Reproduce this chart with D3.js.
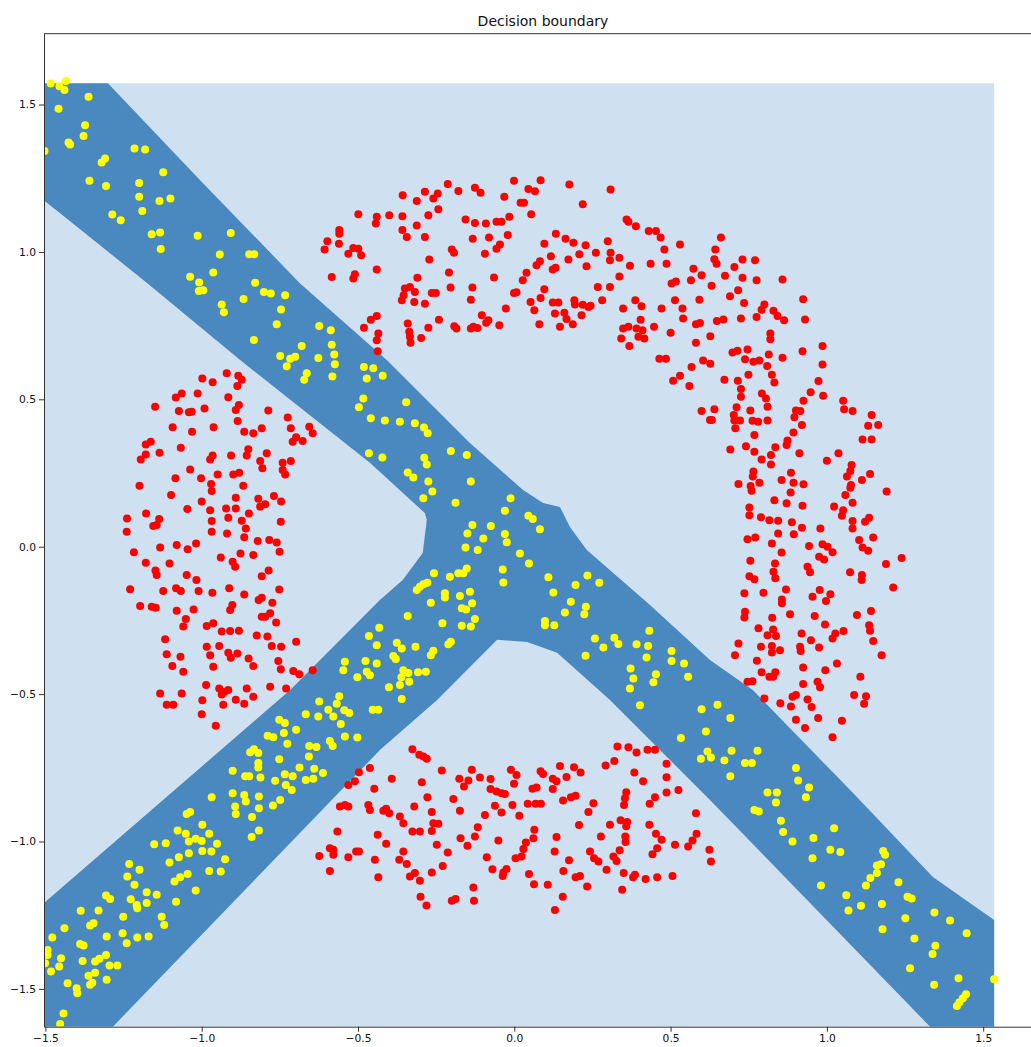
<!DOCTYPE html>
<html>
<head>
<meta charset="utf-8">
<script src="https://cdn.jsdelivr.net/npm/d3@7"></script>
<style>
  body { margin: 0; background: #fff; }
  svg { display: block; font-family: "DejaVu Sans", sans-serif; }
</style>
</head>
<body>
<div id="chart"></div>
<script>
// ticks
const xTicks = [-1.5, -1.0, -0.5, 0.0, 0.5, 1.0, 1.5];
const yTicks = [-1.5, -1.0, -0.5, 0.0, 0.5, 1.0, 1.5];

// extent of the prediction mesh (light region)
const meshX = [-1.5045, 1.535];
const meshY = [-1.628, 1.572];

// outline of the dark decision region (data units)
const bandOutline = [
  [-1.505, 1.572], [-1.300, 1.572], [-1.005, 1.243], [-0.686, 0.894], [-0.408, 0.633],
  [-0.142, 0.352], [0.028, 0.192], [0.092, 0.148], [0.146, 0.135], [0.178, 0.067],
  [0.232, -0.011], [0.434, -0.198], [0.626, -0.384], [0.763, -0.486], [1.096, -0.849],
  [1.339, -1.120], [1.535, -1.266], [1.535, -1.628], [1.330, -1.628], [0.626, -0.859],
  [0.306, -0.520], [0.137, -0.360], [0.041, -0.323], [-0.055, -0.316], [-0.247, -0.520],
  [-0.430, -0.690], [-1.284, -1.628], [-1.505, -1.628], [-1.505, -1.209], [-0.717, -0.486],
  [-0.430, -0.181], [-0.357, -0.113], [-0.293, -0.021], [-0.280, 0.091], [-0.286, 0.114],
  [-0.461, 0.284], [-0.877, 0.633], [-1.174, 0.894], [-1.453, 1.131], [-1.505, 1.175]
];

// class 0 points (red)
const redPts = [
  [-0.499,1.128],[-0.440,1.119],[-0.443,1.096],[-0.560,1.074],[-0.560,1.062],[-0.598,1.036],[-0.607,1.008],[-0.561,1.028],
  [-0.531,0.994],[-0.515,1.013],[-0.499,1.011],[-0.490,0.989],[-0.584,0.915],[-0.515,0.910],[-0.510,0.924],[-0.440,0.940],
  [-0.459,0.770],[-0.440,0.783],[-0.481,0.743],[-0.435,0.723],[-0.440,0.700],[-0.437,0.663],
  [-0.213,1.230],[-0.357,1.192],[-0.286,1.204],[-0.312,1.173],[-0.259,1.181],[-0.245,1.198],[-0.179,1.207],[-0.126,1.218],
  [-0.108,1.201],[-0.032,1.187],[-0.001,1.241],[0.020,1.167],[0.031,1.167],[0.045,1.213],[0.066,1.206],[0.084,1.243],
  [0.176,1.229],[0.219,1.162],[0.308,1.212],[-0.243,1.145],[-0.275,1.124],[-0.400,1.124],[-0.358,1.121],[-0.312,1.090],
  [-0.358,1.074],[-0.344,1.051],[-0.286,1.051],[-0.156,1.110],[-0.126,1.098],[-0.091,1.096],[-0.057,1.102],[-0.041,1.102],
  [-0.016,1.119],[0.054,1.128],[-0.133,1.045],[-0.081,1.049],[-0.021,1.057],[-0.200,1.008],[-0.193,0.997],[-0.094,0.994],
  [-0.057,1.011],[-0.046,1.025],[-0.272,0.974],[-0.209,0.930],[-0.310,0.912],[-0.065,0.913],[-0.350,0.876],[-0.334,0.881],
  [-0.318,0.864],[-0.360,0.836],[-0.354,0.853],[-0.264,0.861],[-0.251,0.861],[-0.320,0.830],[-0.286,0.824],[-0.204,0.879],
  [-0.134,0.879],[-0.139,0.838],[-0.001,0.861],[0.007,0.863],[-0.027,0.808],[0.027,0.904],[0.039,0.929],[0.071,0.955],
  [0.082,0.968],[0.096,1.028],[0.117,0.985],[0.123,0.940],[0.132,0.946],[0.133,1.062],[0.164,1.045],[0.189,1.031],
  [0.228,1.023],[0.208,0.992],[0.173,0.974],[0.231,0.951],[0.261,0.997],[0.299,1.036],[0.308,0.997],[0.306,0.972],
  [0.336,0.980],[0.370,0.953],[0.359,1.110],[0.365,1.102],[0.389,1.087],[0.430,1.071],[0.453,1.071],[0.468,1.049],
  [0.480,1.008],[0.530,1.025],[0.436,0.960],[0.487,0.960],[0.336,0.917],[0.267,0.881],[0.306,0.881],[0.096,0.873],
  [0.052,0.830],[0.064,0.802],[0.084,0.844],[0.123,0.828],[0.141,0.828],[0.130,0.791],[0.160,0.794],[0.167,0.772],
  [0.192,0.836],[0.194,0.822],[0.219,0.821],[0.237,0.813],[0.244,0.817],[0.215,0.785],[0.281,0.836],[0.187,0.755],
  [0.146,0.746],[0.080,0.755],[-0.048,0.751],[-0.104,0.785],[-0.090,0.760],[-0.083,0.768],[-0.139,0.740],[-0.131,0.746],
  [-0.118,0.742],[-0.192,0.748],[-0.185,0.740],[-0.241,0.770],[-0.275,0.743],[-0.341,0.757],[-0.336,0.729],[-0.334,0.712],
  [-0.332,0.692],[-0.298,0.708],[0.348,0.808],[0.387,0.836],[0.407,0.816],[0.404,0.770],[0.348,0.740],[0.365,0.746],
  [0.391,0.740],[0.410,0.734],[0.342,0.706],[0.368,0.681],[0.397,0.712],[0.416,0.706],[0.447,0.746],[0.471,0.808],
  [0.514,0.836],[0.500,0.726],[0.538,0.808],[0.540,0.774],[0.503,0.893],[0.517,0.900],[0.565,0.904],[0.573,0.943],
  [0.599,0.921],[0.592,0.838],[0.581,0.755],[0.594,0.759],[0.581,0.692],[0.464,0.638],[0.485,0.638],[0.567,0.610],
  [0.604,0.632],
  [0.661,1.049],[0.643,1.008],[0.640,0.975],[0.647,0.960],[0.704,0.949],[0.730,0.974],[0.770,0.972],[0.674,0.919],
  [0.730,0.912],[0.775,0.904],[0.858,0.906],[0.631,0.885],[0.716,0.870],[0.690,0.850],[0.735,0.827],[0.800,0.822],
  [0.791,0.804],[0.829,0.800],[0.842,0.783],[0.863,0.768],[0.924,0.839],[0.930,0.771],[0.648,0.766],[0.669,0.771],
  [0.725,0.774],[0.775,0.779],[0.627,0.714],[0.819,0.723],[0.819,0.704],[0.698,0.659],[0.714,0.665],[0.746,0.669],
  [0.738,0.636],[0.765,0.627],[0.784,0.632],[0.814,0.652],[0.809,0.613],[0.858,0.641],[0.922,0.663],[0.986,0.681],
  [0.986,0.618],[0.627,0.621],
  [0.530,0.580],[0.508,0.563],[0.560,0.545],[0.599,0.460],[0.626,0.430],
  [-0.920,0.588],[-0.998,0.571],[-0.965,0.558],[-0.883,0.580],[-0.872,0.566],[-0.886,0.545],[-1.083,0.506],[-1.064,0.520],
  [-1.013,0.520],[-1.149,0.475],[-0.915,0.507],[-1.073,0.460],[-1.041,0.456],[-1.032,0.458],[-0.991,0.469],[-0.881,0.481],
  [-0.891,0.464],[-0.787,0.462],[-0.885,0.426],[-1.093,0.405],[-1.031,0.390],[-0.962,0.405],[-0.864,0.390],[-0.835,0.385],
  [-0.808,0.402],[-0.725,0.438],[-0.715,0.402],[-0.656,0.407],[-0.645,0.385],[-0.698,0.371],[-0.709,0.356],[-0.677,0.359],
  [-1.179,0.347],[-1.163,0.356],[-1.135,0.319],[-1.067,0.336],[-1.195,0.296],[-1.179,0.313],[-0.973,0.296],[-0.965,0.309],
  [-0.906,0.309],[-0.851,0.331],[-0.856,0.309],[-0.792,0.317],[-0.813,0.291],[-0.806,0.266],[-0.741,0.285],[-0.741,0.260],
  [-0.733,0.245],[-0.715,0.291],[-1.037,0.262],[-0.949,0.245],[-0.899,0.245],[-0.880,0.251],[-1.084,0.232],[-1.002,0.232],
  [-1.199,0.207],[-0.970,0.213],[-0.968,0.189],[-0.867,0.207],[-1.098,0.175],[-1.000,0.153],[-0.891,0.166],[-0.819,0.163],
  [-0.813,0.136],[-0.797,0.144],[-0.769,0.172],[-0.746,0.153],[-1.046,0.128],[-0.973,0.124],[-0.922,0.130],[-0.891,0.130],
  [-0.849,0.113],[-1.178,0.113],[-1.239,0.096],[-1.136,0.094],[-1.155,0.070],[-1.144,0.074],[-0.968,0.087],[-0.915,0.098],
  [-0.872,0.088],[-0.747,0.085],[-0.859,0.062],[-1.240,0.051],[-0.968,0.051],[-0.919,0.045],[-0.864,0.032],[-0.821,0.019],
  [-0.784,0.023],[-0.760,0.014],[-0.751,-0.017],[-1.080,0.006],[-1.133,-0.003],[-1.045,-0.009],[-1.018,0.011],[-1.217,-0.019],
  [-0.876,-0.023],[-0.835,-0.028],[-1.179,-0.054],[-1.103,-0.057],[-0.939,-0.037],[-0.901,-0.051],[-0.893,-0.068],[-1.148,-0.081],
  [-1.144,-0.096],[-1.048,-0.096],[-1.017,-0.113],[-0.808,-0.100],[-0.786,-0.081],[-1.229,-0.144],[-1.123,-0.150],[-1.082,-0.141],
  [-1.067,-0.150],[-1.010,-0.150],[-0.966,-0.156],[-0.912,-0.141],[-0.864,-0.162],[-0.752,-0.145],[-0.818,-0.181],[-0.808,-0.173],
  [-0.774,-0.190],[-1.197,-0.201],[-1.160,-0.204],[-1.147,-0.207],[-1.080,-0.217],[-1.026,-0.213],[-0.909,-0.215],[-0.902,-0.198],
  [-0.808,-0.238],[-0.797,-0.238],[-0.781,-0.226],[-0.762,-0.257],[-1.051,-0.245],[-1.059,-0.271],[-0.984,-0.269],[-0.963,-0.260],
  [-0.936,-0.288],[-0.909,-0.286],[-0.881,-0.285],[-0.824,-0.301],[-0.790,-0.305],[-1.117,-0.314],[-0.698,-0.322],[-0.984,-0.339],
  [-0.944,-0.337],[-0.915,-0.360],[-0.907,-0.377],[-0.886,-0.362],[-0.776,-0.337],[-0.746,-0.339],[-1.112,-0.365],[-1.068,-0.373],
  [-0.973,-0.368],[-0.850,-0.379],[-0.835,-0.405],[-0.755,-0.388],[-0.747,-0.416],[-1.094,-0.405],[-1.059,-0.424],[-0.963,-0.407],
  [-0.707,-0.422],[-0.688,-0.433],[-0.645,-0.419],[-0.986,-0.469],[-0.944,-0.481],[-0.927,-0.492],[-0.915,-0.486],[-0.936,-0.501],
  [-0.856,-0.481],[-0.781,-0.475],[-0.730,-0.481],[-1.133,-0.498],[-1.064,-0.498],[-0.835,-0.509],
  [0.749,0.583],[0.824,0.583],[0.672,0.566],[0.715,0.563],[0.832,0.557],[0.973,0.562],[0.725,0.535],[0.725,0.509],
  [0.792,0.520],[0.805,0.503],[0.810,0.475],[0.948,0.524],[0.988,0.512],[0.925,0.495],[1.052,0.495],[1.055,0.466],
  [1.082,0.460],[1.143,0.447],[1.132,0.410],[1.164,0.413],[1.114,0.364],[1.143,0.364],[0.640,0.466],[0.632,0.430],
  [0.711,0.473],[0.702,0.447],[0.704,0.428],[0.707,0.402],[0.722,0.428],[0.755,0.462],[0.762,0.427],[0.780,0.424],
  [0.810,0.428],[0.768,0.379],[0.691,0.330],[0.741,0.341],[0.768,0.322],[0.791,0.296],[0.821,0.311],[0.835,0.337],
  [0.821,0.279],[0.874,0.360],[0.871,0.345],[0.893,0.387],[0.901,0.462],[0.915,0.460],[0.896,0.439],[0.920,0.413],
  [0.912,0.317],[1.000,0.292],[1.037,0.317],[1.079,0.277],[1.064,0.238],[1.075,0.257],[1.077,0.209],[1.075,0.200],
  [1.059,0.175],[1.138,0.247],[1.112,0.226],[1.191,0.187],[0.765,0.255],[0.763,0.238],[0.717,0.213],[0.756,0.206],
  [0.759,0.190],[0.784,0.217],[0.855,0.226],[0.885,0.251],[0.893,0.217],[0.925,0.212],[0.884,0.184],[0.832,0.158],
  [0.871,0.147],[0.922,0.139],[0.752,0.133],[0.752,0.107],[0.789,0.100],[0.816,0.090],[0.844,0.088],[0.888,0.083],
  [0.920,0.064],[0.894,0.042],[0.844,0.045],[0.979,0.062],[1.023,0.136],[1.052,0.124],[1.048,0.105],[1.082,0.149],
  [1.082,0.087],[1.082,0.062],[1.122,0.085],[1.135,0.098],[1.148,0.031],[1.103,0.023],[1.114,-0.003],[1.132,-0.014],
  [0.746,0.025],[0.771,0.031],[0.824,0.011],[0.855,-0.020],[0.943,0.002],[0.986,0.008],[1.002,0.000],[1.018,-0.019],
  [0.975,-0.034],[0.991,-0.043],[0.755,-0.048],[0.834,-0.057],[0.938,-0.068],[0.946,-0.087],[0.829,-0.085],[0.835,-0.107],
  [0.752,-0.100],[0.768,-0.110],[1.074,-0.087],[1.112,-0.096],[1.111,-0.113],[1.189,-0.059],[1.239,-0.038],[1.212,-0.138],
  [0.736,-0.158],[0.797,-0.156],[0.869,-0.145],[0.856,-0.179],[0.856,-0.192],[0.977,-0.147],[0.954,-0.170],[0.997,-0.184],
  [1.011,-0.161],[0.738,-0.221],[0.736,-0.240],[0.825,-0.241],[0.882,-0.229],[0.961,-0.235],[1.096,-0.232],[1.141,-0.218],
  [0.994,-0.264],[0.781,-0.277],[0.828,-0.281],[0.810,-0.300],[0.837,-0.303],[0.919,-0.294],[0.949,-0.317],[1.018,-0.311],
  [1.027,-0.294],[1.053,-0.286],[1.135,-0.266],[1.138,-0.285],[1.148,-0.320],[1.175,-0.368],[0.717,-0.328],[0.706,-0.368],
  [0.789,-0.339],[0.824,-0.337],[0.824,-0.359],[0.850,-0.351],[0.914,-0.339],[0.916,-0.354],[0.975,-0.342],[0.776,-0.387],
  [0.791,-0.426],[0.835,-0.426],[0.816,-0.441],[0.828,-0.441],[0.924,-0.410],[0.995,-0.419],[1.032,-0.396],[1.107,-0.441],
  [0.746,-0.458],[0.762,-0.456],[0.924,-0.466],[0.970,-0.458],[0.978,-0.477],[0.800,-0.515],[0.890,-0.509],[0.901,-0.503],
  [0.938,-0.518],[1.087,-0.503],[1.125,-0.507],
  [0.851,-0.531],[0.885,-0.542],[0.951,-0.544],[0.901,-0.587],[0.972,-0.581],[0.930,-0.615],[1.048,-0.590],[1.018,-0.646],
  [1.119,-0.533],[0.624,-1.028],[0.629,-1.068],
  [-1.112,-0.536],[-1.091,-0.536],[-0.998,-0.521],[-0.931,-0.536],[-0.891,-0.519],[-0.864,-0.533],[-1.000,-0.568],[-0.955,-0.607],
  [-0.497,-0.765],[-0.462,-0.751],[-0.531,-0.808],[-0.510,-0.796],[-0.448,-0.821],[-0.558,-0.881],[-0.542,-0.876],[-0.531,-0.881],
  [-0.467,-0.876],[-0.462,-0.893],[-0.566,-0.966],[-0.437,-0.977],[-0.590,-1.023],[-0.579,-1.045],[-0.579,-1.028],[-0.624,-1.049],
  [-0.531,-1.053],[-0.506,-1.034],[-0.497,-1.034],[-0.446,-1.062],[-0.590,-1.100],[-0.435,-1.121],
  [-0.326,-0.687],[-0.304,-0.706],[-0.291,-0.712],[-0.280,-0.719],[-0.232,-0.759],[-0.136,-0.757],[-0.011,-0.757],[0.007,-0.774],
  [0.084,-0.762],[0.092,-0.771],[0.146,-0.744],[0.191,-0.748],[0.212,-0.766],[0.292,-0.742],[0.320,-0.727],[0.330,-0.678],
  [0.365,-0.680],[0.391,-0.698],[0.426,-0.689],[0.450,-0.689],[0.487,-0.736],[0.487,-0.782],[0.384,-0.766],[0.412,-0.796],
  [-0.392,-0.787],[-0.296,-0.799],[-0.176,-0.787],[-0.161,-0.813],[-0.147,-0.793],[-0.110,-0.783],[-0.076,-0.788],[0.123,-0.787],
  [0.135,-0.796],[0.167,-0.781],[-0.278,-0.850],[-0.195,-0.856],[-0.076,-0.822],[-0.057,-0.830],[-0.041,-0.836],[-0.030,-0.839],
  [-0.001,-0.804],[0.058,-0.821],[0.071,-0.817],[0.123,-0.822],[0.156,-0.861],[0.181,-0.850],[0.196,-0.845],[0.043,-0.872],
  [0.068,-0.872],[0.085,-0.872],[-0.006,-0.876],[-0.062,-0.879],[0.253,-0.870],[0.237,-0.900],[0.358,-0.833],[0.354,-0.853],
  [0.351,-0.876],[0.450,-0.850],[0.433,-0.872],[0.487,-0.834],[0.525,-0.825],[0.581,-0.904],[-0.410,-0.889],[-0.400,-0.904],
  [-0.419,-0.896],[-0.320,-0.881],[-0.366,-0.915],[-0.355,-0.938],[-0.264,-0.900],[-0.259,-0.938],[-0.243,-0.940],[-0.174,-0.896],
  [-0.094,-0.910],[-0.041,-0.902],[0.016,-0.913],[-0.326,-0.966],[-0.302,-0.966],[-0.264,-0.964],[-0.410,-1.008],[-0.355,-1.034],
  [-0.248,-1.011],[-0.213,-1.037],[-0.172,-0.989],[-0.150,-1.014],[-0.126,-0.983],[-0.117,-0.952],[-0.051,-0.997],[0.064,-0.960],
  [0.061,-0.989],[0.037,-1.003],[0.029,-1.025],[0.023,-1.051],[0.004,-1.057],[0.135,-0.985],[0.129,-1.034],[0.175,-1.064],
  [0.242,-1.034],[0.207,-0.944],[0.277,-0.983],[0.306,-0.943],[0.340,-0.928],[0.361,-0.934],[0.358,-0.948],[0.355,-0.983],
  [0.356,-1.002],[0.337,-1.030],[0.432,-0.943],[0.453,-0.974],[0.471,-0.994],[0.457,-1.023],[0.442,-1.043],[0.514,-1.011],
  [0.556,-1.017],[0.570,-0.997],[0.583,-0.974],[-0.368,-1.062],[-0.344,-1.076],[-0.334,-1.119],[-0.318,-1.107],[-0.302,-1.133],
  [-0.264,-1.105],[-0.229,-1.083],[-0.088,-1.053],[-0.070,-1.094],[-0.035,-1.105],[-0.025,-1.093],[-0.037,-1.117],[0.047,-1.110],
  [0.063,-1.145],[0.107,-1.147],[0.157,-1.100],[0.196,-1.121],[0.210,-1.117],[0.233,-1.153],[0.255,-1.057],[0.269,-1.068],
  [0.295,-1.096],[0.317,-1.051],[0.327,-1.066],[0.350,-1.107],[0.380,-1.121],[0.386,-1.113],[0.420,-1.127],[0.457,-1.121],
  [0.345,-1.164],[0.506,-1.117],[-0.300,-1.187],[-0.281,-1.217],[-0.200,-1.201],[-0.188,-1.195],[-0.131,-1.156],[-0.129,-1.201],
  [0.155,-1.187],[0.130,-1.232]
];

// class 1 points (yellow)
const yellowPts = [
  [-1.483,1.571],[-1.455,1.562],[-1.439,1.549],[-1.434,1.580],[-1.362,1.526],[-1.458,1.486],[-1.373,1.430],[-1.378,1.393],
  [-1.426,1.371],[-1.421,1.364],[-1.503,1.342],[-1.320,1.303],[-1.309,1.317],[-1.215,1.351],[-1.181,1.347],[-1.359,1.241],
  [-1.306,1.224],[-1.200,1.234],[-1.123,1.270],[-1.200,1.187],[-1.135,1.173],[-1.100,1.181],[-1.190,1.139],[-1.286,1.127],
  [-1.259,1.107],[-1.160,1.060],[-1.133,1.066],[-1.131,1.010],[-1.013,1.055],[-0.907,1.064],[-0.942,0.991],[-0.848,0.992],
  [-0.832,0.992],[-1.037,0.916],[-1.008,0.896],[-0.995,0.870],[-1.009,0.867],[-0.963,0.930],[-0.829,0.895],[-0.866,0.840],
  [-0.801,0.864],[-0.779,0.859],[-0.733,0.853],[-0.936,0.822],[-0.929,0.795],[-0.746,0.805],[-0.760,0.755],[-0.624,0.749],
  [-0.587,0.734],[-0.833,0.701],[-0.584,0.685],[-0.680,0.681],[-0.749,0.647],[-0.717,0.638],[-0.701,0.644],[-0.728,0.612],
  [-0.627,0.640],[-0.576,0.652],[-0.574,0.619],[-0.481,0.610],
  [-0.664,0.588],[-0.672,0.566],[-0.582,0.577],[-0.472,0.571],[-0.451,0.605],[-0.483,0.503],[-0.497,0.473],[-0.459,0.436],
  [-0.465,0.317],[-0.465,-0.303],[-0.440,-0.334],[-0.542,-0.390],[-0.547,-0.419],[-0.476,-0.388],[-0.440,-0.396],[-0.472,-0.424],
  [-0.462,-0.436],[-0.502,-0.443],[-0.560,-0.507],
  [-0.421,0.580],[-0.346,0.490],[-0.414,0.428],[-0.366,0.424],[-0.318,0.419],[-0.289,0.404],[-0.277,0.385],[-0.422,0.303],
  [-0.288,0.302],[-0.280,0.279],[-0.203,0.325],[-0.152,0.311],[-0.341,0.252],[-0.323,0.235],[-0.275,0.221],[-0.262,0.187],
  [-0.291,0.164],[-0.139,0.221],[-0.188,0.149],[-0.012,0.164],[-0.030,0.122],[0.045,0.105],[0.059,0.094],[0.082,0.059],
  [-0.134,0.074],[-0.150,0.045],[-0.075,0.070],[-0.099,0.028],[-0.030,0.043],[-0.024,0.015],[-0.156,-0.003],[-0.117,-0.011],
  [0.018,-0.023],[0.047,-0.057],[-0.152,-0.074],[-0.163,-0.090],[-0.179,-0.090],[-0.206,-0.102],[-0.257,-0.090],[-0.037,-0.077],
  [-0.035,-0.121],[0.109,-0.104],[0.196,-0.130],[0.234,-0.098],[0.272,-0.122],[0.125,-0.155],[0.181,-0.187],[0.229,-0.204],
  [0.224,-0.229],[0.162,-0.223],[0.098,-0.252],[0.098,-0.266],[0.128,-0.266],[-0.312,-0.147],[-0.302,-0.136],[-0.291,-0.127],
  [-0.278,-0.122],[-0.222,-0.158],[-0.222,-0.172],[-0.174,-0.167],[-0.142,-0.153],[-0.267,-0.190],[-0.135,-0.192],[-0.168,-0.209],
  [-0.154,-0.213],[-0.341,-0.235],[-0.230,-0.260],[-0.168,-0.268],[-0.126,-0.245],[-0.139,-0.271],[-0.432,-0.275],[-0.376,-0.326],
  [-0.360,-0.345],[-0.316,-0.339],[-0.267,-0.368],[-0.259,-0.353],[-0.211,-0.331],[-0.203,-0.322],[-0.387,-0.371],[-0.379,-0.381],
  [-0.355,-0.419],[-0.339,-0.428],[-0.361,-0.443],[-0.308,-0.426],[-0.283,-0.424],[-0.336,-0.458],[-0.366,-0.469],[-0.401,-0.477],
  [0.258,-0.311],[0.285,-0.342],[0.320,-0.309],[0.333,-0.330],[0.228,-0.370],[0.391,-0.331],[0.432,-0.285],[0.428,-0.337],
  [0.423,-0.376],[0.503,-0.354],[0.503,-0.388],[0.543,-0.396],[0.372,-0.413],[0.381,-0.447],[0.370,-0.481],[0.453,-0.433],
  [0.445,-0.460],[0.556,-0.441],
  [-0.360,-0.517],[0.402,-0.538],[0.599,-0.551],[0.533,-0.649],
  [0.650,-0.536],[0.691,-0.581],[0.613,-0.627],[0.618,-0.695],[0.629,-0.715],[0.597,-0.719],[0.672,-0.725],[0.695,-0.692],
  [0.778,-0.692],[0.738,-0.734],[0.760,-0.734],[0.691,-0.779],[0.901,-0.751],[0.908,-0.793],[0.943,-0.817],[0.933,-0.850],
  [0.810,-0.834],[0.840,-0.834],[0.837,-0.868],[0.768,-0.893],[0.782,-0.898],[0.853,-0.930],[0.860,-0.968],[0.890,-1.000],
  [0.957,-0.988],[1.023,-0.955],[0.954,-1.057],[1.011,-1.028],[1.043,-1.036],[0.981,-1.149],[1.180,-1.032],[1.186,-1.045],
  [1.160,-1.081],[1.173,-1.077],[1.160,-1.107],[1.139,-1.124],[1.125,-1.149],[1.229,-1.138],[1.258,-1.187],[1.271,-1.193],
  [1.062,-1.182],[1.069,-1.234],[1.109,-1.218],[1.176,-1.212],[1.178,-1.298],[1.251,-1.260],[1.344,-1.241],[1.394,-1.268],
  [1.447,-1.311],[1.280,-1.329],[1.347,-1.354],[1.338,-1.382],[1.266,-1.430],[1.343,-1.486],[1.421,-1.464],[1.535,-1.467],
  [1.445,-1.518],[1.435,-1.532],[1.424,-1.545],[1.416,-1.558],
  [-0.624,-0.525],[-0.568,-0.533],[-0.595,-0.553],[-0.579,-0.576],[-0.544,-0.555],[-0.528,-0.564],[-0.555,-0.601],[-0.542,-0.644],
  [-0.502,-0.647],[-0.453,-0.553],[-0.435,-0.553],[-0.667,-0.568],[-0.627,-0.576],[-0.752,-0.587],[-0.734,-0.598],[-0.698,-0.621],
  [-0.737,-0.632],[-0.726,-0.668],[-0.789,-0.641],[-0.771,-0.646],[-0.590,-0.659],[-0.581,-0.676],[-0.656,-0.676],[-0.633,-0.679],
  [-0.657,-0.712],[-0.833,-0.687],[-0.845,-0.697],[-0.819,-0.700],[-0.752,-0.721],[-0.819,-0.734],[-0.819,-0.749],[-0.901,-0.760],
  [-0.861,-0.779],[-0.848,-0.779],[-0.812,-0.783],[-0.765,-0.794],[-0.734,-0.772],[-0.709,-0.779],[-0.687,-0.749],[-0.640,-0.753],
  [-0.612,-0.768],[-0.667,-0.791],[-0.643,-0.787],[-0.731,-0.808],[-0.712,-0.825],[-0.901,-0.836],[-0.864,-0.842],[-0.859,-0.864],
  [-0.817,-0.847],[-0.749,-0.859],[-0.772,-0.878],[-0.893,-0.881],[-0.891,-0.907],[-0.817,-0.887],[-0.839,-0.917],[-0.968,-0.850],
  [-1.048,-0.907],[-1.037,-0.900],[-0.817,-0.963],[-0.840,-0.985],[-0.998,-0.943],[-1.077,-0.963],[-1.051,-0.974],[-1.041,-1.000],
  [-1.019,-0.991],[-1.000,-0.998],[-0.976,-0.974],[-0.951,-1.008],[-0.998,-1.032],[-0.969,-1.034],[-1.041,-1.040],[-1.073,-1.053],
  [-1.152,-1.009],[-1.115,-1.006],[-1.103,-1.071],[-0.925,-1.060],[-0.976,-1.100],[-0.939,-1.102],[-1.087,-1.136],[-1.069,-1.121],
  [-1.045,-1.110],[-1.019,-1.166],[-1.082,-1.204],[-1.232,-1.076],[-1.199,-1.096],[-1.238,-1.119],[-1.215,-1.147],[-1.176,-1.172],
  [-1.144,-1.181],[-1.227,-1.196],[-1.208,-1.215],[-1.206,-1.226],[-1.176,-1.209],[-1.306,-1.183],[-1.293,-1.195],[-1.251,-1.255],
  [-1.128,-1.255],[-1.120,-1.283],[-1.387,-1.235],[-1.330,-1.234],[-1.439,-1.294],[-1.357,-1.285],[-1.346,-1.277],[-1.304,-1.322],
  [-1.253,-1.311],[-1.240,-1.345],[-1.206,-1.326],[-1.170,-1.322],[-1.478,-1.326],[-1.389,-1.348],[-1.378,-1.353],[-1.493,-1.368],
  [-1.493,-1.385],[-1.501,-1.413],[-1.450,-1.396],[-1.482,-1.441],[-1.456,-1.424],[-1.381,-1.405],[-1.341,-1.407],[-1.327,-1.398],
  [-1.306,-1.385],[-1.341,-1.445],[-1.362,-1.455],[-1.295,-1.421],[-1.270,-1.421],[-1.304,-1.469],[-1.429,-1.481],[-1.357,-1.486],
  [-1.350,-1.479],[-1.400,-1.498],[-1.398,-1.515],[-1.442,-1.583],[-1.453,-1.619]
];

const width = 1031, height = 1047;
const plotL = 44, plotT = 33.7, plotR = 1042, plotB = 1026.7;

const x = d3.scaleLinear().domain([-1.5045, 1.6881]).range([plotL, plotR]);
const y = d3.scaleLinear().domain([-1.6282, 1.7402]).range([plotB, plotT]);

const svg = d3.select("#chart").append("svg")
    .attr("width", width)
    .attr("height", height);

svg.append("defs").append("clipPath").attr("id", "plotclip")
  .append("rect")
    .attr("x", plotL).attr("y", plotT)
    .attr("width", plotR - plotL).attr("height", plotB - plotT);

const plot = svg.append("g").attr("clip-path", "url(#plotclip)");

// light region of the mesh
plot.append("rect")
    .attr("x", x(meshX[0]))
    .attr("y", y(meshY[1]))
    .attr("width", x(meshX[1]) - x(meshX[0]))
    .attr("height", y(meshY[0]) - y(meshY[1]))
    .attr("fill", "#cfe0f0");

// dark decision region
const line = d3.line().x(d => x(d[0])).y(d => y(d[1]));
plot.append("path")
    .attr("d", line(bandOutline) + "Z")
    .attr("fill", "#4a89c0");

plot.append("g").selectAll("circle")
  .data(redPts)
  .join("circle")
    .attr("cx", d => x(d[0]))
    .attr("cy", d => y(d[1]))
    .attr("r", 4)
    .attr("fill", "#ff0000");

plot.append("g").selectAll("circle")
  .data(yellowPts)
  .join("circle")
    .attr("cx", d => x(d[0]))
    .attr("cy", d => y(d[1]))
    .attr("r", 4)
    .attr("fill", "#ffff00");

// axes
const fmt = d3.format(".1f");
const xAxis = svg.append("g")
    .attr("transform", `translate(0,${plotB})`)
    .call(d3.axisBottom(x).tickValues(xTicks).tickFormat(fmt).tickSize(5).tickPadding(3).tickSizeOuter(0));
const yAxis = svg.append("g")
    .attr("transform", `translate(${plotL},0)`)
    .call(d3.axisLeft(y).tickValues(yTicks).tickFormat(fmt).tickSize(5).tickPadding(3).tickSizeOuter(0));

[xAxis, yAxis].forEach(g => {
  g.attr("font-family", "DejaVu Sans, sans-serif").attr("font-size", 10.7);
  g.select(".domain").attr("stroke", "#333").attr("stroke-width", 1);
  g.selectAll(".tick line").attr("stroke", "#333");
  g.selectAll(".tick text").attr("fill", "#111");
});

// top spine
svg.append("line")
    .attr("x1", plotL).attr("x2", plotR)
    .attr("y1", plotT).attr("y2", plotT)
    .attr("stroke", "#333").attr("stroke-width", 1);

svg.append("text")
    .attr("x", (plotL + plotR) / 2)
    .attr("y", 26)
    .attr("text-anchor", "middle")
    .attr("font-size", 14)
    .attr("fill", "#111")
    .text("Decision boundary");
</script>
</body>
</html>
